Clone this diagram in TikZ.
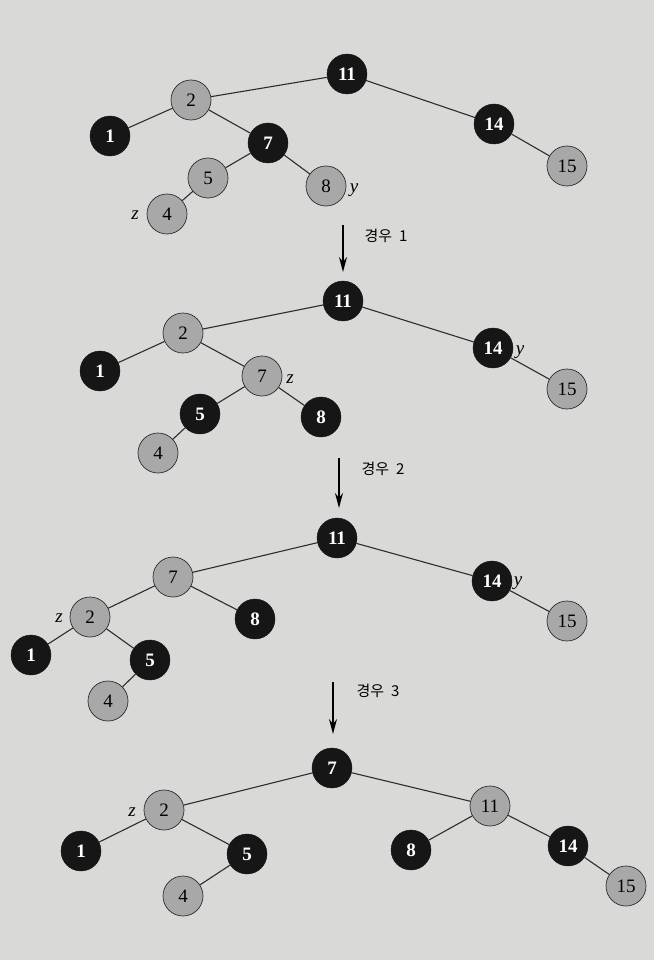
\documentclass[tikz,border=0pt]{standalone}
\usepackage{fontspec}
\setmainfont{Liberation Serif}
\newfontfamily\kofont{Noto Sans CJK KR}
\usetikzlibrary{arrows.meta}
\definecolor{paper}{RGB}{217,217,215}
\definecolor{rednode}{RGB}{168,168,168}
\definecolor{blknode}{RGB}{22,22,22}
\definecolor{edgec}{RGB}{45,45,45}
\tikzset{
  bn/.style={circle,minimum size=40pt,inner sep=0pt,fill=blknode,draw=blknode,text=white,font=\fontsize{19}{19}\selectfont\bfseries},
  gn/.style={circle,minimum size=40pt,inner sep=0pt,fill=rednode,draw=edgec,line width=0.7pt,text=black,font=\fontsize{19}{19}\selectfont},
  lab/.style={font=\fontsize{19}{19}\selectfont\itshape,inner sep=0pt},
  edge/.style={draw=edgec,line width=1.1pt},
  casearrow/.style={draw=black,line width=1.5pt,-{Stealth[length=15pt,width=8pt]}},
  caselab/.style={font=\kofont\fontsize{15}{15}\selectfont,inner sep=0pt}
}
\begin{document}
\begin{tikzpicture}[x=1pt,y=-1pt]
\fill[paper] (0,0) rectangle (654,960);
\useasboundingbox (0,0) rectangle (654,960);
% ---------- tree 1
\node[bn] (a11) at (347,74) {11};
\node[gn] (a2) at (191,100) {2};
\node[bn] (a1) at (110,136) {1};
\node[bn] (a7) at (268,143) {7};
\node[gn] (a5) at (208,178) {5};
\node[gn] (a8) at (326,186) {8};
\node[gn] (a4) at (167,214) {4};
\node[bn] (a14) at (494,124) {14};
\node[gn] (a15) at (567,166) {15};
\node[lab] (ay) at (354,190) {y};
\node[lab] (az) at (135,215) {z};
\draw[edge] (a11)--(a2) (a2)--(a1) (a2)--(a7) (a7)--(a5) (a7)--(a8) (a5)--(a4) (a11)--(a14) (a14)--(a15);
% arrow 1
\coordinate (s1) at (343,225);
\coordinate (e1) at (343,272);
\draw[casearrow] (s1)--(e1);
\node[caselab] (c1) at (386,236) {경우\ \ 1};
% ---------- tree 2
\node[bn] (b11) at (343,301) {11};
\node[gn] (b2) at (183,333) {2};
\node[bn] (b1) at (100,371) {1};
\node[gn] (b7) at (262,376) {7};
\node[bn] (b5) at (200,414) {5};
\node[bn] (b8) at (321,417) {8};
\node[gn] (b4) at (158,453) {4};
\node[bn] (b14) at (493,348) {14};
\node[gn] (b15) at (567,389) {15};
\node[lab] (bz) at (290,379) {z};
\node[lab] (by) at (520,352) {y};
\draw[edge] (b11)--(b2) (b2)--(b1) (b2)--(b7) (b7)--(b5) (b7)--(b8) (b5)--(b4) (b11)--(b14) (b14)--(b15);
% arrow 2
\coordinate (s2) at (339,458);
\coordinate (e2) at (339,508);
\draw[casearrow] (s2)--(e2);
\node[caselab] (c2) at (383,469) {경우\ \ 2};
% ---------- tree 3
\node[bn] (c11) at (337,538) {11};
\node[gn] (c7) at (173,577) {7};
\node[gn] (c2n) at (90,617) {2};
\node[bn] (c1n) at (31,655) {1};
\node[bn] (c5) at (150,660) {5};
\node[gn] (c4) at (108,701) {4};
\node[bn] (c8) at (255,619) {8};
\node[bn] (c14) at (492,581) {14};
\node[gn] (c15) at (567,621) {15};
\node[lab] (cz) at (59,618) {z};
\node[lab] (cy) at (518,583) {y};
\draw[edge] (c11)--(c7) (c7)--(c2n) (c7)--(c8) (c2n)--(c1n) (c2n)--(c5) (c5)--(c4) (c11)--(c14) (c14)--(c15);
% arrow 3
\coordinate (s3) at (333,682);
\coordinate (e3) at (333,734);
\draw[casearrow] (s3)--(e3);
\node[caselab] (c3) at (378,691) {경우\ \ 3};
% ---------- tree 4
\node[bn] (d7) at (332,768) {7};
\node[gn] (d2) at (164,810) {2};
\node[bn] (d1) at (81,851) {1};
\node[bn] (d5) at (247,854) {5};
\node[gn] (d4) at (183,896) {4};
\node[gn] (d11) at (490,806) {11};
\node[bn] (d8) at (411,850) {8};
\node[bn] (d14) at (568,846) {14};
\node[gn] (d15) at (626,886) {15};
\node[lab] (dz) at (132,812) {z};
\draw[edge] (d7)--(d2) (d2)--(d1) (d2)--(d5) (d5)--(d4) (d7)--(d11) (d11)--(d8) (d11)--(d14) (d14)--(d15);
\end{tikzpicture}
\end{document}
